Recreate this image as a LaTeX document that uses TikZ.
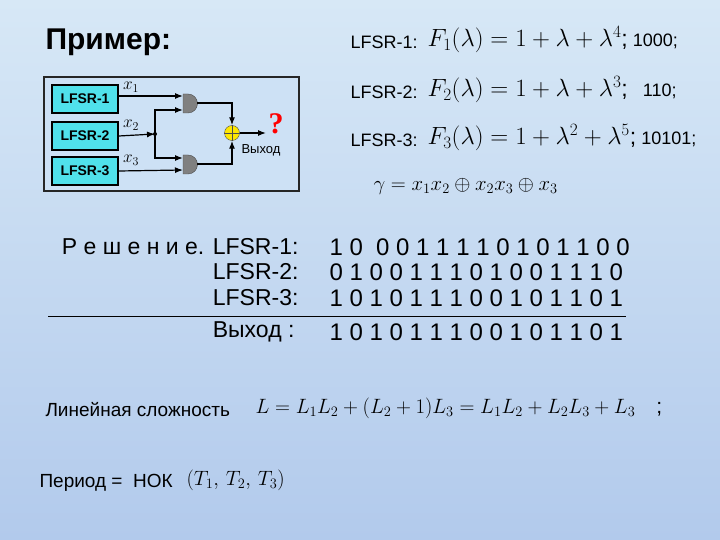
\documentclass[tikz,border=0pt]{standalone}
\usepackage{fontspec}
\setmainfont{Liberation Sans}
\usetikzlibrary{arrows.meta}
\newfontfamily\tms{Liberation Serif}
\definecolor{bgtop}{RGB}{215,232,246}
\definecolor{bgbot}{RGB}{178,202,236}
\definecolor{boxfill}{RGB}{205,225,245}
\definecolor{lcyan}{RGB}{80,225,235}
\begin{document}
\begin{tikzpicture}[x=1pt,y=-1pt,
  lfsr/.style={draw=black,line width=1.5pt,fill=lcyan,minimum width=66pt,minimum height=28pt,font=\bfseries\fontsize{14}{16}\selectfont},
  wire/.style={line width=1.2pt,-{Latex[length=8pt,width=6pt]}},
  xl/.style={font=\fontsize{17}{19}\selectfont},
  txt/.style={font=\fontsize{18}{21}\selectfont,anchor=west},
  rl/.style={font=\fontsize{23}{27}\selectfont,anchor=east},
  bits/.style={font=\fontsize{24}{28}\selectfont,anchor=west},
  fm/.style={font=\fontsize{23}{27}\selectfont,anchor=west}]
\path[top color=bgtop,bottom color=bgbot] (0,0) rectangle (720,540);
\useasboundingbox (0,0) rectangle (720,540);
\node[anchor=west,font=\bfseries\fontsize{30}{34}\selectfont] (title) at (42,42) {Пример:};
% circuit
\node[draw=black!85,line width=2.2pt,fill=boxfill,minimum width=255pt,minimum height=114pt,anchor=north west] (frame) at (43,76) {};
\node[lfsr] (l1) at (85,99) {LFSR-1};
\node[lfsr] (l2) at (85,136) {LFSR-2};
\node[lfsr] (l3) at (85,171) {LFSR-3};
\fill[gray,draw=black!70] (183,94) -- ++(5,0) arc(-90:90:9.5) -- ++(-5,0) -- cycle;
\fill[gray,draw=black!70] (183,155) -- ++(5,0) arc(-90:90:9.5) -- ++(-5,0) -- cycle;
\node[circle,draw=black!70,fill=yellow!90!orange,minimum size=15pt,inner sep=0] (xor) at (232,133) {};
\draw[black!70] (xor.north)--(xor.south) (xor.west)--(xor.east);
\coordinate (j) at (155,134);
\fill (j) circle (2pt);
\draw[wire] (l1.east)++(0,-3) -- (183,96);
\node[xl] (x1) at (131,87) {$x_1$};
\draw[wire] (l2.east) -- (j);
\node[xl] (x2) at (131,125) {$x_2$};
\draw[wire] (j) |- (183,110);
\draw[wire] (j) |- (183,158);
\draw[wire] (l3.east) -- (183,170);
\node[xl] (x3) at (131,160) {$x_3$};
\draw[wire] (197,103) -| (xor.north);
\draw[wire] (197,164) -| (xor.south);
\draw[wire] (xor.east) -- (266,133);
\node[text=red,font=\bfseries\tms\fontsize{30}{32}\selectfont] (q) at (276,124) {?};
\node[font=\fontsize{13}{15}\selectfont] (out) at (261,150) {Выход};
% formulas
\node[txt] (f1l) at (347,42) {LFSR-1:};
\node[fm] (f1) at (424,40) {$F_1(\lambda)=1+\lambda+\lambda^4$;\fontsize{18}{20}\selectfont{} 1000;};
\node[txt] (f2l) at (347,92) {LFSR-2:};
\node[fm] (f2) at (424,90) {$F_2(\lambda)=1+\lambda+\lambda^3$;\hspace{10pt}\fontsize{18}{20}\selectfont{} 110;};
\node[txt] (f3l) at (347,140) {LFSR-3:};
\node[fm] (f3) at (424,138) {$F_3(\lambda)=1+\lambda^2+\lambda^5$;\fontsize{18}{20}\selectfont{} 10101;};
\node[fm,font=\fontsize{22}{26}\selectfont] (g) at (370,186) {$\gamma=x_1x_2\oplus x_2x_3\oplus x_3$};
% solution
\node[rl] (r1) at (302,247) {Р е ш е н и е. LFSR-1:};
\node[rl] (r2) at (302,272) {LFSR-2:};
\node[rl] (r3) at (302,298) {LFSR-3:};
\node[rl] (r4) at (298,332) {Выход :};
\node[bits] (b1) at (326,247) {1 0\ \ 0 0 1 1 1 1 0 1 0 1 1 0 0};
\node[bits] (b2) at (326,272) {0 1 0 0 1 1 1 0 1 0 0 1 1 1 0};
\node[bits] (b3) at (326,298) {1 0 1 0 1 1 1 0 0 1 0 1 1 0 1};
\node[bits] (b4) at (326,332) {1 0 1 0 1 1 1 0 0 1 0 1 1 0 1};
\coordinate (ls) at (48,316); \coordinate (le) at (626,316);
\draw[line width=0.8pt] (ls) -- (le);
\node[txt,font=\fontsize{19}{22}\selectfont] (lc) at (42,410) {Линейная сложность};
\node[fm,font=\fontsize{21}{25}\selectfont] (lcf) at (252,408) {$L=L_1L_2+(L_2+1)L_3=L_1L_2+L_2L_3+L_3$\quad ;};
\node[txt,font=\fontsize{19}{22}\selectfont] (per) at (36,483) {Период =\ \ НОК};
\node[fm,font=\fontsize{22}{26}\selectfont] (perf) at (183,480) {$(T_1,\,T_2,\,T_3)$};
\end{tikzpicture}
\end{document}
